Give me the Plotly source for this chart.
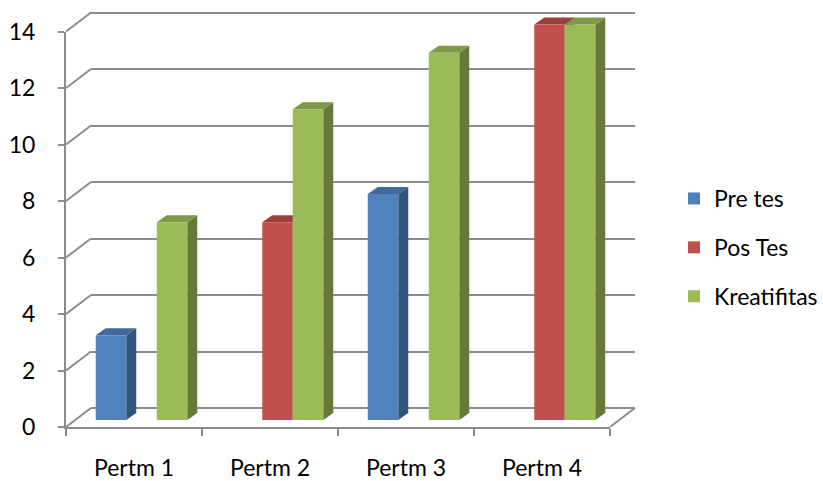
import plotly.graph_objects as go

# ---- data -------------------------------------------------------------
categories = ["Pertm 1", "Pertm 2", "Pertm 3", "Pertm 4"]
pre_tes = [3, None, 8, None]
pos_tes = [None, 7, None, 14]
kreatifitas = [7, 11, 13, 14]
y_ticks = [0, 2, 4, 6, 8, 10, 12, 14]

series = [
    ("Pre tes", pre_tes, "#4F81BD", "#41699B", "#33547B"),
    ("Pos Tes", pos_tes, "#C0504D", "#9C3F3D", "#7D3432"),
    ("Kreatifitas", kreatifitas, "#9BBB59", "#7F9949", "#657A3A"),
]

# ---- geometry of the 3-D box (pixels) ---------------------------------
W, H = 823, 481
FX0, FX1 = 66, 610          # front edge of the floor
FY0, FY1 = 427, 31.5        # front y of value 0 and of the top tick
Y_MAX = 14
Y_PAD = 0.15                # head room so the top back grid line is drawn
DX, DY = 25, 19             # depth of the box (back wall offset)
BSX, BSY = 7.5, 7           # bar front plane offset from the front edge
BDX, BDY = 10, 7            # depth of each bar
BARGAP = 0.327
GRID = "#8C8C8C"
FONT = "Lato"

px_unit = (FY0 - FY1) / Y_MAX
px_cat = (FX1 - FX0) / len(categories)


def fx(px):
    return px / W


def fy(py):
    return 1 - py / H


def ypix(v):
    return FY0 - v * px_unit


fig = go.Figure()

# back wall (subplot xy): only its grid lines are shown
fig.add_trace(go.Scatter(x=[None], y=[None], xaxis="x", yaxis="y",
                         showlegend=False, hoverinfo="skip"))
# front axes (subplot x2y2): axis lines, ticks and labels
fig.add_trace(go.Scatter(x=categories, y=[None] * len(categories),
                         xaxis="x2", yaxis="y2", mode="markers",
                         showlegend=False, hoverinfo="skip"))

# bars (front faces) in subplot x3y3
idx = list(range(len(categories)))
for name, vals, front, top, side in series:
    fig.add_trace(go.Bar(
        x=idx, y=vals, name=name, xaxis="x3", yaxis="y3",
        marker=dict(color=front, line=dict(width=0)),
        legendgroup=name,
    ))

shapes = []

# top and side faces of every bar
bw = (1 - BARGAP) / len(series)
ddx = BDX / px_cat
ddy = BDY / px_unit
for j, (name, vals, front, top, side) in enumerate(series):
    for i, v in enumerate(vals):
        if v is None:
            continue
        xl = i + (j - (len(series) - 1) / 2) * bw - bw / 2
        xr = xl + bw
        shapes.append(dict(
            type="path", xref="x3", yref="y3", layer="between",
            path=f"M{xr},0 L{xr + ddx},{ddy} L{xr + ddx},{v + ddy} L{xr},{v} Z",
            fillcolor=side, line=dict(width=0),
        ))
        shapes.append(dict(
            type="path", xref="x3", yref="y3", layer="between",
            path=f"M{xl},{v} L{xl + ddx},{v + ddy} L{xr + ddx},{v + ddy} L{xr},{v} Z",
            fillcolor=top, line=dict(width=0),
        ))

# left wall diagonals
for t in y_ticks:
    shapes.append(dict(
        type="line", xref="paper", yref="paper", layer="below",
        x0=fx(FX0), y0=fy(ypix(t)), x1=fx(FX0 + DX), y1=fy(ypix(t) - DY),
        line=dict(color=GRID, width=2),
    ))
# right edge of the floor
shapes.append(dict(
    type="line", xref="paper", yref="paper", layer="below",
    x0=fx(FX1), y0=fy(FY0), x1=fx(FX1 + DX), y1=fy(FY0 - DY),
    line=dict(color=GRID, width=2),
))

axis_font = dict(family=FONT, size=23, color="#000000")
hidden = dict(showgrid=False, showticklabels=False, ticks="",
              showline=False, zeroline=False, automargin=False)

fig.update_layout(
    width=W, height=H,
    margin=dict(l=0, r=0, t=0, b=0, autoexpand=False),
    paper_bgcolor="white",
    plot_bgcolor="rgba(0,0,0,0)",
    barmode="group", bargap=BARGAP, bargroupgap=0,
    shapes=shapes,
    showlegend=True,
    legend=dict(
        x=fx(674), y=fy(177), xanchor="left", yanchor="top",
        font=dict(family=FONT, size=23, color="#000000"),
        tracegroupgap=16, bgcolor="rgba(0,0,0,0)",
    ),
    # back wall
    xaxis=dict(
        domain=[fx(FX0 + DX), fx(FX1 + DX)], anchor="y",
        range=[-0.5, len(categories) - 0.5], **hidden,
    ),
    yaxis=dict(
        domain=[fy(FY0 - DY), fy(ypix(Y_MAX + Y_PAD) - DY)], anchor="x",
        range=[0, Y_MAX + Y_PAD], tickvals=y_ticks,
        showgrid=True, gridcolor=GRID, gridwidth=2,
        zeroline=True, zerolinecolor=GRID, zerolinewidth=2,
        showticklabels=False, ticks="", showline=False, automargin=False,
    ),
    # front axes
    xaxis2=dict(
        domain=[fx(FX0), fx(FX1)], anchor="y2", type="category",
        categoryorder="array", categoryarray=categories,
        range=[-0.5, len(categories) - 0.5],
        showline=True, linecolor=GRID, linewidth=2,
        ticks="outside", tickson="boundaries", ticklen=7, tickwidth=2,
        tickcolor=GRID, showgrid=False, zeroline=False,
        tickfont=axis_font, ticklabelstandoff=19, automargin=False,
    ),
    yaxis2=dict(
        domain=[fy(FY0), fy(FY1)], anchor="x2", range=[0, Y_MAX],
        tickvals=y_ticks,
        showline=True, linecolor=GRID, linewidth=2,
        ticks="outside", ticklen=6, tickwidth=2, tickcolor=GRID,
        showgrid=False, zeroline=False,
        tickfont=axis_font, ticklabelstandoff=18, automargin=False,
    ),
    # bar plane
    xaxis3=dict(
        domain=[fx(FX0 + BSX), fx(FX1 + BSX)], anchor="y3",
        range=[-0.5, len(categories) - 0.5], **hidden,
    ),
    yaxis3=dict(
        domain=[fy(FY0 - BSY), 1], anchor="x3",
        range=[0, (FY0 - BSY) / px_unit], **hidden,
    ),
)

fig.write_html("out.html")
